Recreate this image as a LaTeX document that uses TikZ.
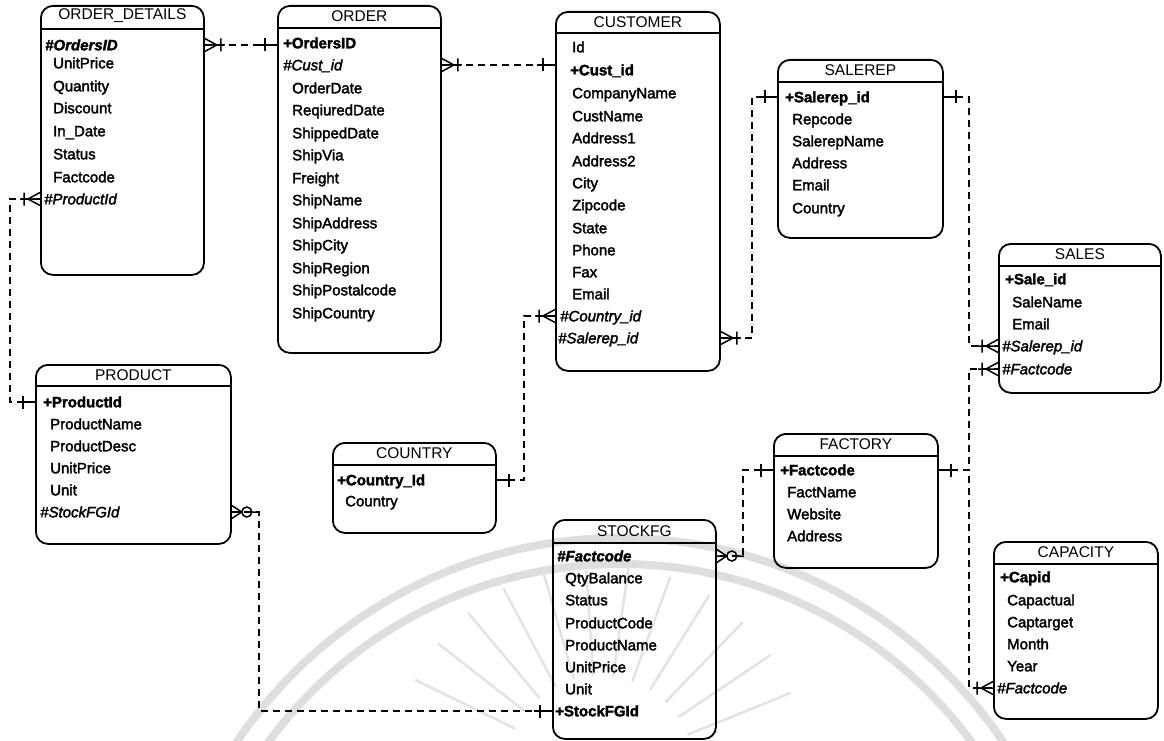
\documentclass[tikz,border=0pt]{standalone}
\usepackage{fontspec}
\setmainfont{Liberation Sans}
\newfontfamily\scanfont{Liberation Sans}[FakeBold=2.2]
\begin{document}
% entity box: name, left, top, width, height, header rule y, title y, title
\newcommand\erdtable[8]{%
  \node[tbl, minimum width=#4pt, minimum height=#5pt] (#1) at (#2,#3) {};
  \draw[hdr] (#1.west |- 0,#6) -- (#1.east |- 0,#6);
  \node[ttl] (#1-t) at (#1.north |- 0,#7) {#8};}
% relationship ends: point on the box edge, direction (1 = line leaves to the right)
\newcommand\mkmany[2]{\begin{scope}[shift={(#1)},xscale=#2]
  \draw[tip] (0,6.5) -- (12,0) -- (0,-6.5) (0,0) -- (20,0) (16,6.5) -- (16,-6.5);\end{scope}}
\newcommand\mkzmany[2]{\begin{scope}[shift={(#1)},xscale=#2]
  \draw[tip] (0,6.5) -- (10,0) -- (0,-6.5) (0,0) -- (10,0) (20,0) -- (27,0);
  \draw[tip] (15,0) circle (5);\end{scope}}
\newcommand\mkone[2]{\begin{scope}[shift={(#1)},xscale=#2]
  \draw[tip] (0,0) -- (18,0) (12,6.5) -- (12,-6.5);\end{scope}}
\begin{tikzpicture}[x=1pt,y=-1pt,
  tbl/.style={draw, line width=1.8pt, rounded corners=12pt, anchor=north west, inner sep=0pt},
  hdr/.style={line width=1.6pt},
  ttl/.style={font=\fontsize{15.5}{18}\selectfont, inner sep=0pt},
  attr/.style={anchor=west, text height=10.6pt, text depth=0pt, inner sep=0pt,
    font=\fontsize{15}{18}\scanfont},
  pk/.style={attr, font=\fontsize{15}{18}\scanfont\bfseries},
  fk/.style={attr, font=\fontsize{15}{18}\scanfont\itshape},
  conn/.style={line width=1.5pt, dash pattern=on 7pt off 5pt},
  tip/.style={line width=1.5pt, solid},
  wm/.style={draw=black!13, line width=8pt},
  wmray/.style={draw=black!11, line width=2.5pt, line cap=round}]
\useasboundingbox (0,0) rectangle (1164,741);

% faint emblem in the background
\begin{scope}
  \clip (0,0) rectangle (1164,741);
  \draw[wm] (620,1000) circle (462);
  \draw[wm] (620,1000) circle (436);
  \foreach \a in {-22,-34,...,-160}
    \draw[wmray] (600,770) ++(\a:95) -- ++(\a:110);
\end{scope}

% entities
\erdtable{od}{40}{5}{163}{269}{29}{16}{ORDER\_DETAILS}
\erdtable{ord}{277}{5}{163}{347}{28}{16}{ORDER}
\erdtable{cu}{555}{11}{164}{359}{33}{22}{CUSTOMER}
\erdtable{sr}{777}{59}{165}{178}{82}{70}{SALEREP}
\erdtable{sa}{998}{243}{162}{149}{266}{254}{SALES}
\erdtable{pr}{35}{364}{195}{179}{386}{375}{PRODUCT}
\erdtable{co}{332}{442}{163}{90}{465}{453}{COUNTRY}
\erdtable{st}{552}{519}{163}{219}{543}{531}{STOCKFG}
\erdtable{fa}{773}{433}{164}{134}{456}{444}{FACTORY}
\erdtable{ca}{993}{541}{164}{177}{564}{552}{CAPACITY}

% ORDER_DETAILS
\node[fk, font=\fontsize{15}{18}\scanfont\bfseries\itshape] (od-1) at (45,45) {\#OrdersID};
\node[attr] (od-2) at (53,63) {UnitPrice};
\node[attr] (od-3) at (53,86) {Quantity};
\node[attr] (od-4) at (53,108) {Discount};
\node[attr] (od-5) at (53,131) {In\_Date};
\node[attr] (od-6) at (53,154) {Status};
\node[attr] (od-7) at (53,177) {Factcode};
\node[fk] (od-8) at (44,199) {\#ProductId};

% ORDER
\node[pk] (ord-1) at (283,43) {+OrdersID};
\node[fk] (ord-2) at (283,65) {\#Cust\_id};
\node[attr] (ord-3) at (292,88) {OrderDate};
\node[attr] (ord-4) at (292,110) {ReqiuredDate};
\node[attr] (ord-5) at (292,133) {ShippedDate};
\node[attr] (ord-6) at (292,155) {ShipVia};
\node[attr] (ord-7) at (292,178) {Freight};
\node[attr] (ord-8) at (292,200) {ShipName};
\node[attr] (ord-9) at (292,223) {ShipAddress};
\node[attr] (ord-10) at (292,245) {ShipCity};
\node[attr] (ord-11) at (292,268) {ShipRegion};
\node[attr] (ord-12) at (292,290) {ShipPostalcode};
\node[attr] (ord-13) at (292,313) {ShipCountry};

% CUSTOMER
\node[attr] (cu-1) at (572,47) {Id};
\node[pk] (cu-2) at (570,70) {+Cust\_id};
\node[attr] (cu-3) at (572,93) {CompanyName};
\node[attr] (cu-4) at (572,116) {CustName};
\node[attr] (cu-5) at (572,138) {Address1};
\node[attr] (cu-6) at (572,161) {Address2};
\node[attr] (cu-7) at (572,183) {City};
\node[attr] (cu-8) at (572,205) {Zipcode};
\node[attr] (cu-9) at (572,228) {State};
\node[attr] (cu-10) at (572,250) {Phone};
\node[attr] (cu-11) at (572,272) {Fax};
\node[attr] (cu-12) at (572,294) {Email};
\node[fk] (cu-13) at (560,316) {\#Country\_id};
\node[fk] (cu-14) at (558,338) {\#Salerep\_id};

% SALEREP
\node[pk] (sr-1) at (785,97) {+Salerep\_id};
\node[attr] (sr-2) at (792,119) {Repcode};
\node[attr] (sr-3) at (792,141) {SalerepName};
\node[attr] (sr-4) at (792,163) {Address};
\node[attr] (sr-5) at (792,185) {Email};
\node[attr] (sr-6) at (792,208) {Country};

% SALES
\node[pk] (sa-1) at (1005,279) {+Sale\_id};
\node[attr] (sa-2) at (1012,302) {SaleName};
\node[attr] (sa-3) at (1012,324) {Email};
\node[fk] (sa-4) at (1002,346) {\#Salerep\_id};
\node[fk] (sa-5) at (1002,369) {\#Factcode};

% PRODUCT
\node[pk] (pr-1) at (43,402) {+ProductId};
\node[attr] (pr-2) at (50,424) {ProductName};
\node[attr] (pr-3) at (50,446) {ProductDesc};
\node[attr] (pr-4) at (50,468) {UnitPrice};
\node[attr] (pr-5) at (50,490) {Unit};
\node[fk] (pr-6) at (40,512) {\#StockFGId};

% COUNTRY
\node[pk] (co-1) at (337,480) {+Country\_Id};
\node[attr] (co-2) at (345,501) {Country};

% STOCKFG
\node[fk, font=\fontsize{15}{18}\scanfont\bfseries\itshape] (st-1) at (557,556) {\#Factcode};
\node[attr] (st-2) at (565,578) {QtyBalance};
\node[attr] (st-3) at (565,600) {Status};
\node[attr] (st-4) at (565,623) {ProductCode};
\node[attr] (st-5) at (565,645) {ProductName};
\node[attr] (st-6) at (565,667) {UnitPrice};
\node[attr] (st-7) at (565,689) {Unit};
\node[pk] (st-8) at (555,711) {+StockFGId};

% FACTORY
\node[pk] (fa-1) at (780,470) {+Factcode};
\node[attr] (fa-2) at (787,492) {FactName};
\node[attr] (fa-3) at (787,514) {Website};
\node[attr] (fa-4) at (787,536) {Address};

% CAPACITY
\node[pk] (ca-1) at (1000,577) {+Capid};
\node[attr] (ca-2) at (1007,600) {Capactual};
\node[attr] (ca-3) at (1007,622) {Captarget};
\node[attr] (ca-4) at (1007,644) {Month};
\node[attr] (ca-5) at (1007,666) {Year};
\node[fk] (ca-6) at (997,688) {\#Factcode};

% relationships
\draw[conn] (od.east |- od-1) -- (ord.west |- od-1);
\mkmany{od.east |- od-1}{1}
\mkone{ord.west |- od-1}{-1}

\draw[conn] (ord.east |- ord-2) -- (cu.west |- ord-2);
\mkmany{ord.east |- ord-2}{1}
\mkone{cu.west |- ord-2}{-1}

\draw[conn] (od.west |- od-8) -- ++(-30,0) |- (pr.west |- pr-1);
\mkmany{od.west |- od-8}{-1}
\mkone{pr.west |- pr-1}{-1}

\draw[conn] (cu.west |- cu-13) -- ++(-31,0) |- (co.east |- co-1);
\mkmany{cu.west |- cu-13}{-1}
\mkone{co.east |- co-1}{1}

\draw[conn] (cu.east |- cu-14) -- ++(31,0) |- (sr.west |- sr-1);
\mkmany{cu.east |- cu-14}{1}
\mkone{sr.west |- sr-1}{-1}

\draw[conn] (sr.east |- sr-1) -- ++(25,0) |- (sa.west |- sa-4);
\mkone{sr.east |- sr-1}{1}
\mkmany{sa.west |- sa-4}{-1}

\draw[conn] (fa.east |- fa-1) -- ++(30,0) |- (sa.west |- sa-5);
\draw[conn] (fa.east |- fa-1) -- ++(30,0) |- (ca.west |- ca-6);
\mkone{fa.east |- fa-1}{1}
\mkmany{sa.west |- sa-5}{-1}
\mkmany{ca.west |- ca-6}{-1}

\draw[conn] (fa.west |- fa-1) -- ++(-30,0) |- (st.east |- st-1);
\mkone{fa.west |- fa-1}{-1}
\mkzmany{st.east |- st-1}{1}

\draw[conn] (pr.east |- pr-6) -- ++(27,0) |- (st.west |- st-8);
\mkzmany{pr.east |- pr-6}{1}
\mkone{st.west |- st-8}{-1}
\end{tikzpicture}
\end{document}
